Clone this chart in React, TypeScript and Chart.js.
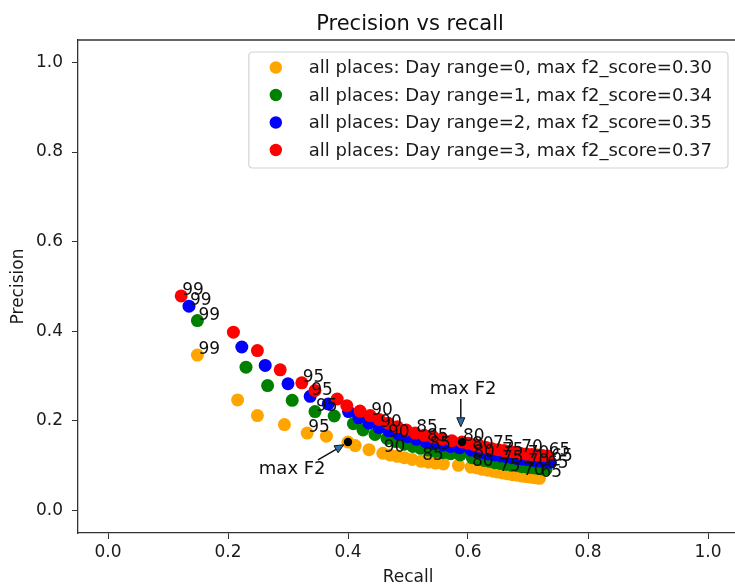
import React, { useEffect, useRef } from "react";
import { Chart, registerables } from "chart.js";

Chart.register(...registerables);

// ---------------- data ----------------
const THRESHOLDS = [
  99, 98, 97, 96, 95, 94, 93, 92, 91, 90, 89, 88, 87, 86, 85, 84, 83, 82,
  81, 80, 79, 78, 77, 76, 75, 74, 73, 72, 71, 70, 69, 68, 67, 66, 65,
];
const LABELED_THRESHOLDS = [99, 95, 90, 85, 80, 75, 70, 65];

const SERIES_LABELS = [
  "all places: Day range=0, max f2_score=0.30",
  "all places: Day range=1, max f2_score=0.34",
  "all places: Day range=2, max f2_score=0.35",
  "all places: Day range=3, max f2_score=0.37",
];
const SERIES_COLORS = ["#FFA500", "#008000", "#0000FF", "#FF0000"];

const RECALL_DAY0 = [
  0.149, 0.216, 0.249, 0.294, 0.332, 0.364, 0.4, 0.412, 0.435, 0.458, 0.47,
  0.482, 0.494, 0.507, 0.522, 0.534, 0.546, 0.559, 0.584, 0.605, 0.615, 0.624,
  0.633, 0.642, 0.65, 0.658, 0.666, 0.674, 0.682, 0.69, 0.697, 0.703, 0.709,
  0.714, 0.719,
];
const PRECISION_DAY0 = [
  0.347, 0.247, 0.212, 0.192, 0.173, 0.166, 0.153, 0.145, 0.136, 0.128, 0.124,
  0.121, 0.118, 0.114, 0.11, 0.108, 0.106, 0.104, 0.101, 0.097, 0.095, 0.092,
  0.09, 0.088, 0.086, 0.084, 0.082, 0.08, 0.079, 0.077, 0.076, 0.075, 0.074,
  0.073, 0.072,
];

const RECALL_DAY1 = [
  0.149, 0.23, 0.266, 0.307, 0.345, 0.377, 0.409, 0.425, 0.445, 0.465, 0.48,
  0.494, 0.508, 0.521, 0.534, 0.546, 0.558, 0.571, 0.587, 0.607, 0.617, 0.627,
  0.636, 0.645, 0.655, 0.664, 0.673, 0.682, 0.69, 0.698, 0.705, 0.712, 0.718,
  0.724, 0.73,
];
const PRECISION_DAY1 = [
  0.424, 0.32, 0.279, 0.246, 0.221, 0.211, 0.194, 0.18, 0.17, 0.161, 0.154,
  0.148, 0.143, 0.139, 0.135, 0.132, 0.129, 0.127, 0.124, 0.118, 0.115, 0.112,
  0.11, 0.107, 0.105, 0.103, 0.101, 0.1, 0.098, 0.097, 0.096, 0.095, 0.094,
  0.093, 0.092,
];

const RECALL_DAY2 = [
  0.135, 0.223, 0.262, 0.3, 0.337, 0.367, 0.401, 0.418, 0.435, 0.452, 0.468,
  0.484, 0.499, 0.514, 0.53, 0.544, 0.558, 0.571, 0.586, 0.605, 0.615, 0.625,
  0.635, 0.645, 0.655, 0.664, 0.673, 0.682, 0.69, 0.698, 0.706, 0.714, 0.722,
  0.73, 0.737,
];
const PRECISION_DAY2 = [
  0.456, 0.365, 0.324, 0.283, 0.255, 0.238, 0.221, 0.207, 0.195, 0.185, 0.178,
  0.171, 0.165, 0.159, 0.153, 0.149, 0.146, 0.143, 0.14, 0.135, 0.132, 0.129,
  0.126, 0.124, 0.122, 0.12, 0.118, 0.116, 0.115, 0.114, 0.112, 0.111, 0.11,
  0.109, 0.108,
];

const RECALL_DAY3 = [
  0.122, 0.209, 0.249, 0.287, 0.323, 0.345, 0.382, 0.398, 0.42, 0.437, 0.452,
  0.467, 0.482, 0.497, 0.512, 0.527, 0.542, 0.557, 0.573, 0.59, 0.6, 0.61,
  0.62, 0.63, 0.64, 0.65, 0.66, 0.669, 0.678, 0.687, 0.697, 0.706, 0.715,
  0.724, 0.733,
];
const PRECISION_DAY3 = [
  0.479, 0.398, 0.357, 0.314, 0.285, 0.268, 0.249, 0.234, 0.222, 0.212, 0.203,
  0.195, 0.187, 0.18, 0.173, 0.168, 0.164, 0.16, 0.156, 0.153, 0.15, 0.147,
  0.144, 0.141, 0.138, 0.136, 0.134, 0.132, 0.13, 0.128, 0.126, 0.125, 0.124,
  0.123, 0.122,
];

const SERIES_RECALL = [RECALL_DAY0, RECALL_DAY1, RECALL_DAY2, RECALL_DAY3];
const SERIES_PRECISION = [PRECISION_DAY0, PRECISION_DAY1, PRECISION_DAY2, PRECISION_DAY3];

// max F2 markers: which series and which threshold
const MAX_F2_SERIES = [0, 3];
const MAX_F2_THRESHOLD = [93, 80];
const MAX_F2_TEXT = "max F2";

const X_TICKS = [0, 0.2, 0.4, 0.6, 0.8, 1.0];
const Y_TICKS = [0, 0.2, 0.4, 0.6, 0.8, 1.0];

// ---------------- styling ----------------
const FONT = "'DejaVu Sans', 'Liberation Sans', sans-serif";
const AXIS_COLOR = "#333333";

// annotation layout (data coordinates, like matplotlib xytext)
const ANNOT_LAYOUT = [
  { tx: 0.307, ty: 0.093, sx: 0.35, sy: 0.113, ex: 0.393, ey: 0.147 },
  { tx: 0.592, ty: 0.27, sx: 0.588, sy: 0.249, ex: 0.588, ey: 0.187 },
];

const overlayPlugin = {
  id: "overlay",
  afterDatasetsDraw(chart: any) {
    const { ctx, scales } = chart;
    const xs = scales.x;
    const ys = scales.y;
    ctx.save();

    // threshold labels
    ctx.font = `17px ${FONT}`;
    ctx.fillStyle = "#111111";
    ctx.textAlign = "left";
    ctx.textBaseline = "alphabetic";
    for (let s = 0; s < SERIES_RECALL.length; s++) {
      THRESHOLDS.forEach((t, i) => {
        if (!LABELED_THRESHOLDS.includes(t)) return;
        const px = xs.getPixelForValue(SERIES_RECALL[s][i]);
        const py = ys.getPixelForValue(SERIES_PRECISION[s][i]);
        ctx.fillText(String(t), px + 1, py - 1);
      });
    }

    // max F2 annotations
    ANNOT_LAYOUT.forEach((an) => {
      const tx = xs.getPixelForValue(an.tx);
      const ty = ys.getPixelForValue(an.ty);
      ctx.font = `18px ${FONT}`;
      ctx.fillStyle = "#111111";
      ctx.textAlign = "center";
      ctx.textBaseline = "middle";
      ctx.fillText(MAX_F2_TEXT, tx, ty);

      const sx = xs.getPixelForValue(an.sx);
      const sy = ys.getPixelForValue(an.sy);
      const ex = xs.getPixelForValue(an.ex);
      const ey = ys.getPixelForValue(an.ey);
      const ang = Math.atan2(ey - sy, ex - sx);
      const hl = 9;
      const hw = 4;
      const bx = ex - hl * Math.cos(ang);
      const by = ey - hl * Math.sin(ang);
      ctx.strokeStyle = "#111111";
      ctx.lineWidth = 1.5;
      ctx.beginPath();
      ctx.moveTo(sx, sy);
      ctx.lineTo(bx, by);
      ctx.stroke();
      ctx.beginPath();
      ctx.moveTo(ex, ey);
      ctx.lineTo(bx + hw * Math.sin(ang), by - hw * Math.cos(ang));
      ctx.lineTo(bx - hw * Math.sin(ang), by + hw * Math.cos(ang));
      ctx.closePath();
      ctx.fillStyle = "#2f6fa8";
      ctx.fill();
      ctx.lineWidth = 1;
      ctx.stroke();
    });

    ctx.restore();
  },
  afterDraw(chart: any) {
    const { ctx, chartArea: a } = chart;
    ctx.save();

    // top spine (right spine falls outside the cropped view)
    ctx.strokeStyle = AXIS_COLOR;
    ctx.lineWidth = 1.3;
    ctx.beginPath();
    ctx.moveTo(a.left, a.top);
    ctx.lineTo(a.right + 20, a.top);
    ctx.stroke();

    // title
    ctx.font = `21px ${FONT}`;
    ctx.fillStyle = "#111111";
    ctx.textAlign = "center";
    ctx.textBaseline = "alphabetic";
    ctx.fillText("Precision vs recall", (a.left + a.right) / 2 + 2, 30);

    // legend
    ctx.font = `18px ${FONT}`;
    let maxW = 0;
    SERIES_LABELS.forEach((l) => {
      maxW = Math.max(maxW, ctx.measureText(l).width);
    });
    const boxW = 60 + maxW + 16;
    const rowH = 27.5;
    const boxH = 116;
    const bx = a.right - 10 - boxW;
    const by = a.top + 12;
    ctx.beginPath();
    const r = 4;
    ctx.moveTo(bx + r, by);
    ctx.lineTo(bx + boxW - r, by);
    ctx.quadraticCurveTo(bx + boxW, by, bx + boxW, by + r);
    ctx.lineTo(bx + boxW, by + boxH - r);
    ctx.quadraticCurveTo(bx + boxW, by + boxH, bx + boxW - r, by + boxH);
    ctx.lineTo(bx + r, by + boxH);
    ctx.quadraticCurveTo(bx, by + boxH, bx, by + boxH - r);
    ctx.lineTo(bx, by + r);
    ctx.quadraticCurveTo(bx, by, bx + r, by);
    ctx.closePath();
    ctx.fillStyle = "rgba(255,255,255,0.85)";
    ctx.fill();
    ctx.strokeStyle = "#d4d4d4";
    ctx.lineWidth = 1.2;
    ctx.stroke();

    SERIES_LABELS.forEach((l, i) => {
      const cy = by + 15.5 + i * rowH;
      ctx.beginPath();
      ctx.arc(bx + 27, cy, 6.2, 0, Math.PI * 2);
      ctx.fillStyle = SERIES_COLORS[i];
      ctx.fill();
      ctx.fillStyle = "#1a1a1a";
      ctx.textAlign = "left";
      ctx.textBaseline = "middle";
      ctx.fillText(l, bx + 60, cy + 1);
    });

    ctx.restore();
  },
};

export default function App() {
  const canvasRef = useRef<HTMLCanvasElement | null>(null);

  useEffect(() => {
    if (!canvasRef.current) return;

    const datasets: any[] = SERIES_LABELS.map((label, s) => ({
      label,
      data: SERIES_RECALL[s].map((x, i) => ({ x, y: SERIES_PRECISION[s][i] })),
      backgroundColor: SERIES_COLORS[s],
      borderWidth: 0,
      pointRadius: 6.5,
      order: SERIES_LABELS.length - s,
    }));
    datasets.push({
      label: MAX_F2_TEXT,
      data: MAX_F2_SERIES.map((s, k) => {
        const i = THRESHOLDS.indexOf(MAX_F2_THRESHOLD[k]);
        return { x: SERIES_RECALL[s][i], y: SERIES_PRECISION[s][i] };
      }),
      backgroundColor: "#000000",
      borderWidth: 0,
      pointRadius: 4.2,
      order: 0,
    });

    const tickFont = { family: FONT, size: 17 };

    const chart = new Chart(canvasRef.current, {
      type: "scatter",
      data: { datasets },
      options: {
        animation: false,
        responsive: false,
        devicePixelRatio: 1,
        layout: { padding: { left: 0, right: 22, top: 40, bottom: 0 } },
        plugins: {
          legend: { display: false },
          title: { display: false },
          tooltip: { enabled: false },
        },
        scales: {
          x: {
            type: "linear",
            min: -0.05,
            max: 1.05,
            afterBuildTicks: (scale: any) => {
              scale.ticks = X_TICKS.map((v) => ({ value: v }));
            },
            afterFit: (scale: any) => {
              scale.height = 55;
            },
            ticks: {
              font: tickFont,
              color: "#1a1a1a",
              padding: 3,
              maxRotation: 0,
              callback: (v: any) => Number(v).toFixed(1),
            },
            grid: {
              display: true,
              drawOnChartArea: false,
              drawTicks: true,
              tickLength: 6,
              tickColor: AXIS_COLOR,
            },
            border: { display: true, color: AXIS_COLOR, width: 1.3 },
            title: {
              display: true,
              text: "Recall",
              font: { family: FONT, size: 17 },
              color: "#1a1a1a",
              padding: { top: 0, bottom: 0 },
            },
          },
          y: {
            type: "linear",
            min: -0.05,
            max: 1.05,
            afterBuildTicks: (scale: any) => {
              scale.ticks = Y_TICKS.map((v) => ({ value: v }));
            },
            afterFit: (scale: any) => {
              scale.width = 78;
            },
            ticks: {
              font: tickFont,
              color: "#1a1a1a",
              padding: 9,
              callback: (v: any) => Number(v).toFixed(1),
            },
            grid: {
              display: true,
              drawOnChartArea: false,
              drawTicks: true,
              tickLength: 6,
              tickColor: AXIS_COLOR,
            },
            border: { display: true, color: AXIS_COLOR, width: 1.3 },
            title: {
              display: true,
              text: "Precision",
              font: { family: FONT, size: 17 },
              color: "#1a1a1a",
              padding: { top: 8, bottom: 0 },
            },
          },
        },
      },
      plugins: [overlayPlugin],
    } as any);

    return () => chart.destroy();
  }, []);

  return (
    <div
      style={{
        position: "absolute",
        left: 0,
        top: 0,
        width: 735,
        height: 588,
        overflow: "hidden",
        background: "#ffffff",
      }}
    >
      <canvas ref={canvasRef} width={760} height={588} style={{ display: "block" }} />
    </div>
  );
}
